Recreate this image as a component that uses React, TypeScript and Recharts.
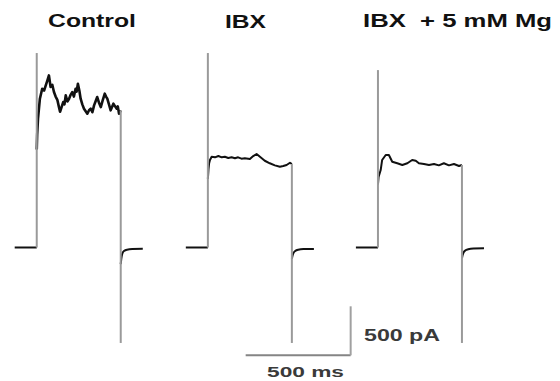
import React from 'react';
import { LineChart, Line, XAxis, YAxis, ReferenceLine } from 'recharts';

// ---- data (time in ms, current in pA) ----
const panelNames = ['Control', 'IBX', 'IBX  + 5 mM Mg'];
const panelOnsetMs = [175, 990, 1800];
const preStepMs = 105;
const stepMs = 400;
const postStepMs = 105;
const onTransientPa = [1984, 1984, 1810];
const offTransientPa = [-974, -974, -974];

const controlTimes = [0, 2, 6, 15, 26, 35, 43, 50, 58, 66, 74, 82, 90, 98, 105, 111, 118, 126, 132, 138, 146, 154, 162, 169, 177, 185, 190, 196, 203, 209, 217, 225, 233, 241, 249, 257, 265, 273, 280, 288, 296, 305, 314, 324, 330, 336, 344, 352, 358, 365, 373, 381, 386, 392, 396, 400];
const controlCurrent = [1000, 1150, 1314, 1518, 1620, 1600, 1654, 1700, 1756, 1637, 1660, 1586, 1540, 1507, 1440, 1385, 1430, 1484, 1460, 1552, 1490, 1518, 1560, 1586, 1540, 1620, 1590, 1671, 1600, 1518, 1460, 1416, 1390, 1365, 1400, 1416, 1380, 1450, 1490, 1535, 1480, 1433, 1500, 1569, 1540, 1518, 1460, 1399, 1430, 1467, 1440, 1416, 1440, 1365, 1380, 1399];

const ibxTimes = [0, 3, 6, 10, 18, 34, 50, 66, 81, 97, 113, 129, 144, 160, 176, 200, 216, 232, 248, 271, 295, 319, 343, 359, 375, 391, 400];
const ibxCurrent = [700, 800, 860, 893, 926, 920, 933, 920, 926, 913, 920, 910, 920, 906, 910, 903, 933, 954, 926, 885, 859, 838, 824, 831, 842, 865, 852];

const mgTimes = [0, 3, 13, 20, 37, 52, 68, 92, 116, 140, 163, 180, 195, 219, 243, 267, 290, 314, 338, 362, 386, 400];
const mgCurrent = [640, 720, 790, 893, 944, 944, 875, 859, 842, 859, 893, 885, 859, 852, 842, 852, 838, 859, 838, 852, 831, 842];

const tailTimes = [0, 3, 8, 16, 30, 55, 105];
const controlTail = [-170, -110, -60, -35, -22, -16, -14];
const ibxTail = [-115, -85, -55, -35, -22, -16, -15];
const mgTail = [-110, -80, -50, -30, -18, -10, -8];

const scaleBarMs = 500;
const scaleBarPa = 500;
const scaleBarCornerMs = 1670;
const scaleBarCornerPa = -1100;

const xDomain = [0, 2667];
const yDomain = [-1362, 2525];

// ---- build series ----
const stepTimes = [controlTimes, ibxTimes, mgTimes];
const stepCurrents = [controlCurrent, ibxCurrent, mgCurrent];
const tailCurrents = [controlTail, ibxTail, mgTail];
const stepWidths = [2.6, 2, 2];

type Pt = { t: number; v: number };

const panels = panelNames.map((name, i) => {
  const on = panelOnsetMs[i];
  const off = on + stepMs;
  const step: Pt[] = stepTimes[i].map((t, k) => ({ t: on + t, v: stepCurrents[i][k] }));
  const lastStep = stepCurrents[i][stepCurrents[i].length - 1];
  const baseline: Pt[] = [
    { t: on - preStepMs, v: 0 },
    { t: on, v: 0 },
  ];
  const onSpike: Pt[] = [
    { t: on, v: 0 },
    { t: on, v: onTransientPa[i] },
  ];
  const offSpike: Pt[] = [
    { t: off, v: lastStep },
    { t: off, v: offTransientPa[i] },
  ];
  const tail: Pt[] = tailTimes
    .filter((t) => t <= postStepMs)
    .map((t, k) => ({ t: off + t, v: tailCurrents[i][k] }));
  return { name, baseline, onSpike, step, offSpike, tail };
});

const BLACK = '#111111';
const GREY = '#9a9a9a';
const FONT = '"Liberation Sans", Arial, Helvetica, sans-serif';
const NO_DOT = { r: 0, strokeWidth: 0, fillOpacity: 0 };

export default function App() {
  return (
    <div style={{ position: 'absolute', left: 0, top: 0, width: 560, height: 381, background: '#fff' }}>
      <LineChart width={560} height={381} margin={{ top: 0, right: 0, bottom: 0, left: 0 }}>
        <XAxis type="number" dataKey="t" domain={xDomain} hide allowDataOverflow />
        <YAxis type="number" dataKey="v" domain={yDomain} hide allowDataOverflow />
        {panels.map((p, i) => [
          <Line key={`b${i}`} data={p.baseline} dataKey="v" stroke={BLACK} strokeWidth={2} dot={NO_DOT} activeDot={false} isAnimationActive={false} type="linear" />,
          <Line key={`s${i}`} data={p.step} dataKey="v" stroke={BLACK} strokeWidth={stepWidths[i]} strokeLinejoin="round" dot={NO_DOT} activeDot={false} isAnimationActive={false} type="linear" />,
          <Line key={`t${i}`} data={p.tail} dataKey="v" stroke={BLACK} strokeWidth={2} dot={NO_DOT} activeDot={false} isAnimationActive={false} type="monotone" />,
          <Line key={`on${i}`} data={p.onSpike} dataKey="v" stroke={GREY} strokeWidth={2} dot={NO_DOT} activeDot={false} isAnimationActive={false} type="linear" />,
          <Line key={`off${i}`} data={p.offSpike} dataKey="v" stroke={GREY} strokeWidth={2} dot={NO_DOT} activeDot={false} isAnimationActive={false} type="linear" />,
        ])}
        <ReferenceLine
          segment={[
            { x: scaleBarCornerMs - scaleBarMs, y: scaleBarCornerPa },
            { x: scaleBarCornerMs, y: scaleBarCornerPa },
          ]}
          stroke="#858585"
          strokeWidth={2}
          ifOverflow="visible"
        />
        <ReferenceLine
          segment={[
            { x: scaleBarCornerMs, y: scaleBarCornerPa },
            { x: scaleBarCornerMs, y: scaleBarCornerPa + scaleBarPa },
          ]}
          stroke="#a0a0a0"
          strokeWidth={2}
          ifOverflow="visible"
        />
      </LineChart>
      <svg width={560} height={381} style={{ position: 'absolute', left: 0, top: 0, pointerEvents: 'none' }}>
        <text x={48} y={26.5} fontFamily={FONT} fontWeight="bold" fontSize={18} fill="#111" textLength={88} lengthAdjust="spacingAndGlyphs">
          {panelNames[0]}
        </text>
        <text x={225} y={27.5} fontFamily={FONT} fontWeight="bold" fontSize={18} fill="#111" textLength={41} lengthAdjust="spacingAndGlyphs">
          {panelNames[1]}
        </text>
        <text x={363} y={26.5} fontFamily={FONT} fontWeight="bold" fontSize={18} fill="#111" textLength={189} lengthAdjust="spacingAndGlyphs" xmlSpace="preserve" style={{ whiteSpace: 'pre' }}>
          {panelNames[2]}
        </text>
        <text x={267} y={376.5} fontFamily={FONT} fontWeight="bold" fontSize={15} fill="#3a3a3a" textLength={77} lengthAdjust="spacingAndGlyphs">
          {`${scaleBarMs} ms`}
        </text>
        <text x={364} y={340.5} fontFamily={FONT} fontWeight="bold" fontSize={16} fill="#3a3a3a" textLength={76} lengthAdjust="spacingAndGlyphs">
          {`${scaleBarPa} pA`}
        </text>
      </svg>
    </div>
  );
}
